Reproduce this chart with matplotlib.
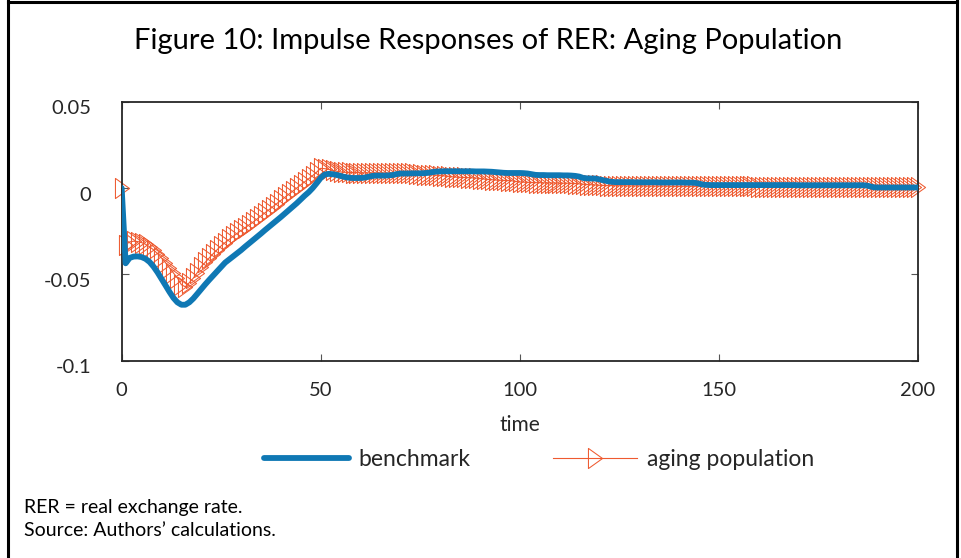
import matplotlib
matplotlib.use("Agg")
import matplotlib.pyplot as plt
import matplotlib.transforms as mtransforms
from matplotlib.path import Path
from matplotlib.lines import Line2D

plt.rcParams['font.family'] = ['Lato', 'DejaVu Sans']
plt.rcParams['axes.unicode_minus'] = False

# time 0..200, one value per period
time = list(range(201))

benchmark = [
    0.0, -0.0436, -0.0405, -0.0397, -0.0396, -0.0400, -0.0410, -0.0428, -0.0455, -0.0488,
    -0.0525, -0.0563, -0.0601, -0.0636, -0.0662, -0.0676, -0.0676, -0.0662, -0.0640, -0.0613,
    -0.0585, -0.0558, -0.0532, -0.0507, -0.0482, -0.0457, -0.0432, -0.0414, -0.0396, -0.0378,
    -0.0360, -0.0340, -0.0321, -0.0302, -0.0283, -0.0264, -0.0244, -0.0225, -0.0206, -0.0187,
    -0.0168, -0.0148, -0.0128, -0.0108, -0.0088, -0.0066, -0.0044, -0.0024, 0.0000, 0.0028,
    0.0058, 0.0078, 0.0082, 0.0080, 0.0076, 0.0070, 0.0064, 0.0060, 0.0058, 0.0058,
    0.0058, 0.0060, 0.0065, 0.0070, 0.0072, 0.0072, 0.0072, 0.0073, 0.0075, 0.0080,
    0.0084, 0.0084, 0.0084, 0.0085, 0.0085, 0.0085, 0.0086, 0.0088, 0.0092, 0.0095,
    0.0096, 0.0097, 0.0097, 0.0097, 0.0097, 0.0097, 0.0097, 0.0097, 0.0097, 0.0096,
    0.0096, 0.0096, 0.0095, 0.0094, 0.0092, 0.0090, 0.0088, 0.0087, 0.0087, 0.0087,
    0.0087, 0.0086, 0.0084, 0.0080, 0.0076, 0.0075, 0.0075, 0.0074, 0.0074, 0.0074,
    0.0074, 0.0073, 0.0073, 0.0072, 0.0070, 0.0066, 0.0058, 0.0056, 0.0055, 0.0055,
    0.0050, 0.0045, 0.0040, 0.0036, 0.0034, 0.0034, 0.0034, 0.0034, 0.0034, 0.0033,
    0.0033, 0.0033, 0.0033, 0.0033, 0.0033, 0.0032, 0.0032, 0.0032, 0.0032, 0.0032,
    0.0032, 0.0032, 0.0031, 0.0031, 0.0030, 0.0026, 0.0020, 0.0018, 0.0017, 0.0017,
    0.0017, 0.0017, 0.0017, 0.0017, 0.0017, 0.0017, 0.0017, 0.0017, 0.0017, 0.0017,
    0.0017, 0.0017, 0.0017, 0.0017, 0.0017, 0.0017, 0.0017, 0.0017, 0.0017, 0.0017,
    0.0016, 0.0016, 0.0016, 0.0016, 0.0016, 0.0016, 0.0016, 0.0016, 0.0016, 0.0016,
    0.0016, 0.0016, 0.0016, 0.0016, 0.0016, 0.0016, 0.0016, 0.0015, 0.0010, 0.0004,
    0.0003, 0.0003, 0.0003, 0.0003, 0.0003, 0.0003, 0.0003, 0.0003, 0.0003, 0.0003,
    0.0003,
]

aging = [
    0.0, -0.0329, -0.0312, -0.0308, -0.0310, -0.0316, -0.0326, -0.0340, -0.0358, -0.0380,
    -0.0405, -0.0432, -0.0462, -0.0492, -0.0520, -0.0560, -0.0572, -0.0548, -0.0522, -0.0490,
    -0.0455, -0.0430, -0.0405, -0.0380, -0.0357, -0.0335, -0.0316, -0.0298, -0.0280, -0.0263,
    -0.0246, -0.0230, -0.0214, -0.0198, -0.0180, -0.0162, -0.0144, -0.0126, -0.0108, -0.0090,
    -0.0072, -0.0054, -0.0036, -0.0018, 0.0000, 0.0018, 0.0036, 0.0054, 0.0072, 0.0092,
    0.0114, 0.0112, 0.0108, 0.0102, 0.0097, 0.0093, 0.0091, 0.0090, 0.0089, 0.0089,
    0.0088, 0.0088, 0.0088, 0.0088, 0.0088, 0.0088, 0.0087, 0.0087, 0.0087, 0.0086,
    0.0086, 0.0086, 0.0085, 0.0085, 0.0082, 0.0080, 0.0078, 0.0077, 0.0076, 0.0074,
    0.0072, 0.0070, 0.0068, 0.0065, 0.0063, 0.0062, 0.0061, 0.0060, 0.0059, 0.0058,
    0.0055, 0.0052, 0.0050, 0.0048, 0.0046, 0.0045, 0.0044, 0.0043, 0.0042, 0.0038,
    0.0035, 0.0034, 0.0033, 0.0032, 0.0031, 0.0031, 0.0030, 0.0030, 0.0029, 0.0029,
    0.0028, 0.0028, 0.0028, 0.0027, 0.0026, 0.0024, 0.0022, 0.0020, 0.0019, 0.0018,
    0.0016, 0.0015, 0.0014, 0.0014, 0.0013, 0.0013, 0.0013, 0.0012, 0.0012, 0.0012,
    0.0012, 0.0012, 0.0011, 0.0011, 0.0011, 0.0011, 0.0011, 0.0011, 0.0010, 0.0010,
    0.0010, 0.0010, 0.0010, 0.0010, 0.0010, 0.0010, 0.0010, 0.0010, 0.0010, 0.0010,
    0.0009, 0.0009, 0.0009, 0.0009, 0.0009, 0.0009, 0.0009, 0.0009, 0.0009, 0.0009,
    0.0008, 0.0008, 0.0008, 0.0008, 0.0008, 0.0008, 0.0008, 0.0008, 0.0008, 0.0008,
    0.0007, 0.0007, 0.0007, 0.0007, 0.0007, 0.0007, 0.0007, 0.0007, 0.0007, 0.0007,
    0.0006, 0.0006, 0.0006, 0.0006, 0.0006, 0.0006, 0.0006, 0.0006, 0.0006, 0.0006,
    0.0005, 0.0005, 0.0005, 0.0005, 0.0005, 0.0005, 0.0005, 0.0005, 0.0005, 0.0005,
    0.0005,
]

xticks = [0, 50, 100, 150, 200]
yticks = [-0.1, -0.05, 0, 0.05]
ytick_labels = ['-0.1', '-0.05', '0', '0.05']

blue = '#0F78B4'
orange = '#EE5A30'
txt = '#262626'

# narrow right-pointing triangle like matlab's '>'
tri = Path([(-0.7, -1.0), (0.7, 0.0), (-0.7, 1.0), (-0.7, -1.0)],
           [Path.MOVETO, Path.LINETO, Path.LINETO, Path.CLOSEPOLY])

fig = plt.figure(figsize=(9.61, 5.58), dpi=100)
ax = fig.add_axes([0.1266, 0.3536, 0.8283, 0.4642])

ax.plot(time, aging, color=orange, lw=0.8, marker=tri, markersize=14.5,
        markerfacecolor='none', markeredgecolor=orange, markeredgewidth=0.75,
        label='aging population', clip_on=False, zorder=2)
ax.plot(time, benchmark, color=blue, lw=4.2, solid_capstyle='round',
        label='benchmark', zorder=3)

ax.set_xlim(0, 200)
ax.set_ylim(-0.1, 0.05)
ax.set_xticks(xticks)
ax.set_yticks(yticks)
ax.set_yticklabels(ytick_labels)
ax.tick_params(direction='in', length=5, width=0.8, color='#555555',
               top=True, right=True, labelsize=14.5, labelcolor=txt)
ax.tick_params(axis='x', pad=15)
ax.tick_params(axis='y', pad=22)
for s in ax.spines.values():
    s.set_linewidth(1.3)
    s.set_color(txt)

# labels in the original sit a little below their ticks
shift = mtransforms.ScaledTranslation(0, -4 / 72, fig.dpi_scale_trans)
for lbl in ax.get_yticklabels():
    lbl.set_transform(lbl.get_transform() + shift)

ax.set_xlabel('time', fontsize=15, color=txt, labelpad=12)

fig.text(488 / 961, 1 - 41 / 558, 'Figure 10: Impulse Responses of RER: Aging Population',
         ha='center', va='center', fontsize=21, color='black')

handles, labels = ax.get_legend_handles_labels()
leg = fig.legend(handles[::-1], labels[::-1], loc='center', ncol=2,
                 bbox_to_anchor=(539 / 961, 1 - 460 / 558), frameon=False,
                 fontsize=16.5, handlelength=3.7, handletextpad=0.4,
                 columnspacing=3.6, numpoints=1)
for t in leg.get_texts():
    t.set_color(txt)

fig.text(24 / 961, 1 - 507 / 558, 'RER = real exchange rate.', ha='left', va='center',
         fontsize=14, color='black')
fig.text(24 / 961, 1 - 530 / 558, 'Source: Authors\u2019 calculations.', ha='left',
         va='center', fontsize=14, color='black')

# outer frame of the figure box
for xs, ys in [([8 / 961, 8 / 961], [0, 1]),
               ([8 / 961, 957 / 961], [1 - 2 / 558, 1 - 2 / 558]),
               ([957 / 961, 957 / 961], [0, 1])]:
    fig.add_artist(Line2D(xs, ys, transform=fig.transFigure, color='black', lw=2.2))

fig.savefig('out.png', dpi=100)
